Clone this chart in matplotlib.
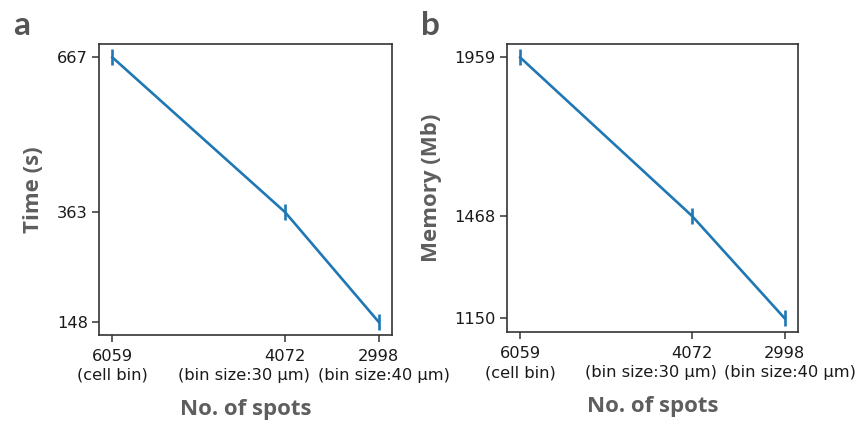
import matplotlib.pyplot as plt

plt.rcParams["font.family"] = ["DejaVu Sans"]

spots = [6059, 4072, 2998]
spot_captions = ["(cell bin)", "(bin size:30 μm)", "(bin size:40 μm)"]
time_s = [667, 363, 148]
memory_mb = [1959, 1468, 1150]

# horizontal nudges (pixels) so the long captions sit side by side
CAPTION_SHIFT = [0, -41, 5]

LABEL_GREY = "#5e5e5e"
TEXT_DARK = "#1a1a1a"
LINE_BLUE = "#1f77b4"


def draw_panel(ax, values, ylabel, ylim):
    ax.plot(spots, values, color=LINE_BLUE, linewidth=1.9,
            marker="|", markersize=12, markeredgewidth=1.9)
    ax.set_xticks(spots)
    ax.set_xticklabels([str(s) for s in spots], fontsize=11.7, color=TEXT_DARK)
    ax.set_yticks(values)
    ax.set_yticklabels([str(v) for v in values], fontsize=11.7, color=TEXT_DARK)
    span = max(spots) - min(spots)
    ax.set_xlim(max(spots) + 0.05 * span, min(spots) - 0.05 * span)
    ax.set_ylim(*ylim)
    ax.tick_params(length=5, width=1.1, color="#333333", pad=3)
    ax.tick_params(axis="x", pad=5)
    for s in ax.spines.values():
        s.set_color("#333333")
        s.set_linewidth(1.2)

    # second line under each x tick number
    for x, cap, dx in zip(spots, spot_captions, CAPTION_SHIFT):
        ax.annotate(cap, xy=(x, 0), xycoords=ax.get_xaxis_transform(),
                    xytext=(dx, -33), textcoords="offset pixels",
                    ha="center", va="top", fontsize=11.7, color=TEXT_DARK,
                    annotation_clip=False)

    ax.set_xlabel("No. of spots", fontsize=16, fontweight="bold",
                  color=LABEL_GREY, family="Open Sans", labelpad=25)
    ax.set_ylabel(ylabel, fontsize=16, fontweight="bold",
                  color=LABEL_GREY, family="Open Sans", labelpad=9)
    return ax


fig = plt.figure(figsize=(8.65, 4.24), dpi=100)
ax_a = fig.add_axes([0.1145, 0.210, 0.3387, 0.686])
ax_b = fig.add_axes([0.586, 0.216, 0.3365, 0.680])

draw_panel(ax_a, time_s, "Time (s)", (122.5, 693.0))
draw_panel(ax_b, memory_mb, "Memory (Mb)", (1106.6, 2000.2))

fig.text(0.015, 0.917, "a", fontsize=24, fontweight="bold",
         color="#555555", family="Lato", va="baseline")
fig.text(0.487, 0.917, "b", fontsize=24, fontweight="bold",
         color="#555555", family="Lato", va="baseline")

fig.savefig("out.png", dpi=100)
